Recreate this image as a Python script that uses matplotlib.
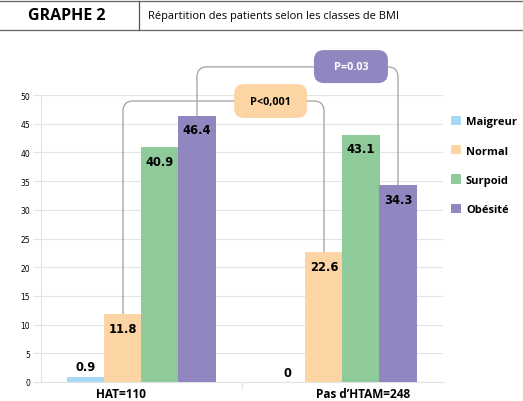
import matplotlib
matplotlib.use("Agg")
import matplotlib.pyplot as plt
import numpy as np
from matplotlib.patches import FancyBboxPatch, Patch
from matplotlib.path import Path
from matplotlib.patches import PathPatch

categories = ["HAT=110", "Pas d\u2019HTAM=248"]
series_names = ["Maigreur", "Normal", "Surpoid", "Obésité"]
values = {
    "Maigreur": [0.9, 0.0],
    "Normal": [11.8, 22.6],
    "Surpoid": [40.9, 43.1],
    "Obésité": [46.4, 34.3],
}
colors = ["#A6D9F5", "#FDD5A5", "#8FCA9B", "#9286C0"]
yticks = [0, 5, 10, 15, 20, 25, 30, 35, 40, 45, 50]
title_left = "GRAPHE 2"
title_right = "Répartition des patients selon les classes de BMI"
pvals = ["P<0,001", "P=0.03"]

W, H = 523, 402
fig = plt.figure(figsize=(W / 100, H / 100), dpi=100)
ax = fig.add_axes([41 / W, 1 - 383 / H, 402 / W, 287 / H])

x = np.arange(len(categories))
bw = 0.184
offsets = (np.arange(4) - 1.5) * bw
for i, name in enumerate(series_names):
    vals = values[name]
    ax.bar(x + offsets[i], vals, width=bw * 1.01, color=colors[i], zorder=3, lw=0)
    for xi, v in zip(x + offsets[i], vals):
        if v < 5:
            ax.annotate(f"{v:g}", (xi, v), xytext=(0, 2.5), textcoords="offset points",
                        ha="center", va="bottom", fontsize=8.3, fontweight="bold",
                        family="DejaVu Sans", zorder=5)
        else:
            ax.annotate(f"{v:g}", (xi, v), xytext=(0, -5.5), textcoords="offset points",
                        ha="center", va="top", fontsize=8.3, fontweight="bold",
                        family="DejaVu Sans", zorder=5)

ax.set_xlim(-0.5, 1.5)
ax.set_ylim(0, 50)
ax.set_yticks(yticks)
ax.set_yticklabels([str(t) for t in yticks], fontsize=5.5, family="DejaVu Sans")
ax.yaxis.grid(True, color="#E3E3E3", lw=0.8, zorder=0)
ax.tick_params(axis="y", length=6, color="#E3E3E3", pad=2)
ax.set_xticks([0.5], minor=False)
ax.set_xticklabels([""])
ax.tick_params(axis="x", length=5, color="#E3E3E3")
for xi, lab in zip([-0.1, 1.1], categories):
    ax.text(xi, -0.9, lab, ha="center", va="top", fontsize=8.5, fontweight="bold",
            family="Open Sans", transform=ax.transData)
for s in ["top", "right"]:
    ax.spines[s].set_visible(False)
ax.spines["left"].set_color("#E3E3E3")
ax.spines["bottom"].set_color("#E3E3E3")

# aspect (data y per data x for equal pixel)
asp = (50 / 287) / (2 / 402)


def bracket(x0, y0, x1, y1, ytop, r=0.05):
    ry = r * asp
    verts = [(x0, y0), (x0, ytop - ry), (x0, ytop), (x0 + r, ytop),
             (x1 - r, ytop), (x1, ytop), (x1, ytop - ry), (x1, y1)]
    codes = [Path.MOVETO, Path.LINETO, Path.CURVE3, Path.CURVE3,
             Path.LINETO, Path.CURVE3, Path.CURVE3, Path.LINETO]
    ax.add_patch(PathPatch(Path(verts, codes), fill=False, ec="#A0A0A0", lw=0.9,
                           clip_on=False, zorder=2))


def pbox(xc, yc, w, h, text, fc, tc):
    r = 0.05
    p = FancyBboxPatch((xc - w / 2, yc - h / 2), w, h,
                       boxstyle=f"round,pad=0,rounding_size={r}",
                       mutation_aspect=asp, fc=fc, ec="none", clip_on=False, zorder=4)
    ax.add_patch(p)
    ax.text(xc, yc, text, ha="center", va="center", fontsize=7.8, fontweight="bold",
            color=tc, family="Open Sans", zorder=5)


bracket(0 + offsets[1], values["Normal"][0], 1 + offsets[1], values["Normal"][1], 48.95)
bracket(0 + offsets[3], values["Obésité"][0], 1 + offsets[3], values["Obésité"][1], 54.9)
pbox(0.642, 48.95, 0.363, 5.9, pvals[0], colors[1], "black")
pbox(1.042, 54.95, 0.368, 5.75, pvals[1], colors[3], "white")

handles = [Patch(fc=c, ec="none") for c in colors]
fig.legend(handles, series_names, loc="upper left", bbox_to_anchor=(451 / W, 1 - 117 / H),
           frameon=False, prop={"family": "Open Sans", "weight": "bold", "size": 8},
           handlelength=0.9, handleheight=0.9, handletextpad=0.45, labelspacing=1.6,
           borderpad=0, borderaxespad=0)

# header
fig.add_artist(plt.Line2D([0, 1], [1 - 2 / H, 1 - 2 / H], color="#666666", lw=0.9,
                          transform=fig.transFigure))
fig.add_artist(plt.Line2D([0, 1], [1 - 31 / H, 1 - 31 / H], color="#666666", lw=0.9,
                          transform=fig.transFigure))
fig.add_artist(plt.Line2D([139 / W, 139 / W], [1 - 2 / H, 1 - 31 / H], color="#555555",
                          lw=0.9, transform=fig.transFigure))
fig.text(66.5 / W, 1 - 16.5 / H, title_left, ha="center", va="center", fontsize=11.5,
         fontweight="bold", family="Open Sans")
fig.text(148 / W, 1 - 17 / H, title_right, ha="left", va="center", fontsize=7.9,
         family="Open Sans")

fig.savefig("out.png", dpi=100)
